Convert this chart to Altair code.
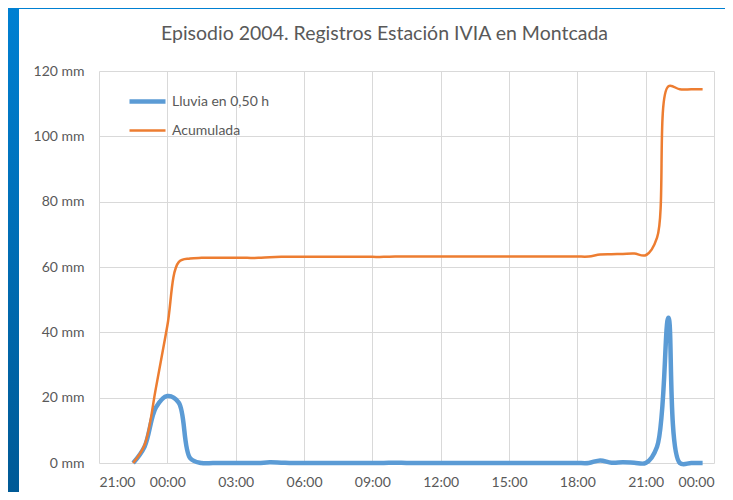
import altair as alt
import pandas as pd

horas = ["22:30", "23:00", "23:30", "00:00", "00:30", "01:00", "01:30", "02:00", "02:30", "03:00",
         "03:30", "04:00", "04:30", "05:00", "05:30", "06:00", "06:30", "07:00", "07:30", "08:00",
         "08:30", "09:00", "09:30", "10:00", "10:30", "11:00", "11:30", "12:00", "12:30", "13:00",
         "13:30", "14:00", "14:30", "15:00", "15:30", "16:00", "16:30", "17:00", "17:30", "18:00",
         "18:30", "19:00", "19:30", "20:00", "20:30", "21:00", "21:30", "22:00", "22:30", "23:00",
         "23:30"]

lluvia = [0, 5, 17, 20.5, 18.5, 1.5, 0, 0, 0, 0,
          0, 0, 0.2, 0.1, 0, 0, 0, 0, 0, 0,
          0, 0, 0, 0.1, 0, 0, 0, 0, 0, 0,
          0, 0, 0, 0, 0, 0, 0, 0, 0, 0,
          0, 0.8, 0.1, 0.2, 0.1, 0, 5, 44.5, 0, 0,
          0]

acumulada = [0, 5.5, 23, 42, 61.5, 62.6, 62.8, 62.8, 62.8, 62.8,
             62.8, 62.8, 63.0, 63.1, 63.1, 63.1, 63.1, 63.1, 63.1, 63.1,
             63.1, 63.1, 63.1, 63.2, 63.2, 63.2, 63.2, 63.2, 63.2, 63.2,
             63.2, 63.2, 63.2, 63.2, 63.2, 63.2, 63.2, 63.2, 63.2, 63.2,
             63.2, 63.8, 63.9, 64.0, 64.1, 63.6, 69, 115.3, 114.4, 114.4,
             114.4]

series = ["Lluvia en 0,50 h", "Acumulada"]
colores = ["#5B9BD5", "#ED7D31"]
grosores = [4.5, 2.5]
x_ticks = [0, 3, 6, 9, 12, 15, 18, 21, 24, 27]   # horas desde las 21:00
y_ticks = [0, 20, 40, 60, 80, 100, 120]

# horas transcurridas desde las 21:00 del primer día
t = []
dia = 0
prev = None
for h in horas:
    hh, mm = h.split(":")
    v = (int(hh) + int(mm) / 60 - 21) % 24
    if prev is not None and v + dia * 24 < prev:
        dia += 1
    t.append(v + dia * 24)
    prev = t[-1]

rows = []
for s, vals in zip(series, [lluvia, acumulada]):
    for ti, v in zip(t, vals):
        rows.append({"t": ti, "mm": v, "serie": s})
df = pd.DataFrame(rows)

W, H = 615, 392
PL, PT, PR, PB = 91, 63, 11, 29

lines = alt.Chart(df).mark_line(interpolate="catmull-rom").encode(
    x=alt.X("t:Q", scale=alt.Scale(domain=[0, 27], nice=False, zero=False),
            axis=alt.Axis(values=x_ticks, title=None, grid=True, domain=False, ticks=False,
                          labelPadding=12,
                          labelExpr="((21 + datum.value) % 24 < 10 ? '0' : '') + ((21 + datum.value) % 24) + ':00'")),
    y=alt.Y("mm:Q", scale=alt.Scale(domain=[0, 120], nice=False),
            axis=alt.Axis(values=y_ticks, title=None, domain=False, ticks=False, labelPadding=15,
                          labelExpr="datum.value + ' mm'")),
    color=alt.Color("serie:N", scale=alt.Scale(domain=series, range=colores),
                    legend=alt.Legend(title=None)),
    strokeWidth=alt.StrokeWidth("serie:N", scale=alt.Scale(domain=series, range=grosores),
                                legend=alt.Legend(title=None)),
)

one = pd.DataFrame({"a": [0]})
strip = alt.Chart(one).mark_rect(
    color=alt.Gradient(gradient="linear",
                       stops=[alt.GradientStop(color="#0080D2", offset=0),
                              alt.GradientStop(color="#005A96", offset=1)],
                       x1=0, x2=0, y1=0, y2=1)
).encode(x=alt.value(-PL), x2=alt.value(-PL + 11), y=alt.value(-PT), y2=alt.value(H + PB))
topstrip = alt.Chart(one).mark_rect(color="#0080D2").encode(
    x=alt.value(-PL), x2=alt.value(W + PR), y=alt.value(-PT), y2=alt.value(-PT + 1))

chart = alt.layer(strip, topstrip, lines).properties(
    width=W, height=H,
    autosize=alt.AutoSizeParams(type="none"),
    padding={"left": PL, "top": PT, "right": PR, "bottom": PB},
    title=alt.TitleParams("Episodio 2004. Registros Estación IVIA en Montcada",
                          font="Lato", fontSize=19.5, fontWeight="normal", color="#595959",
                          anchor="middle", frame="group", dx=-22, offset=-51, baseline="alphabetic"),
).configure_view(stroke=None).configure_axis(
    gridColor="#D9D9D9", gridWidth=1, labelColor="#595959", labelFont="Lato", labelFontSize=14,
).configure_legend(
    orient="none", legendX=28, legendY=10, padding=0, symbolType="stroke", symbolSize=1296,
    labelFont="Lato", labelFontSize=14, labelColor="#595959", labelOffset=4, rowPadding=-7,
)

chart.save("out.html", embed_options={"renderer": "svg", "actions": False})
